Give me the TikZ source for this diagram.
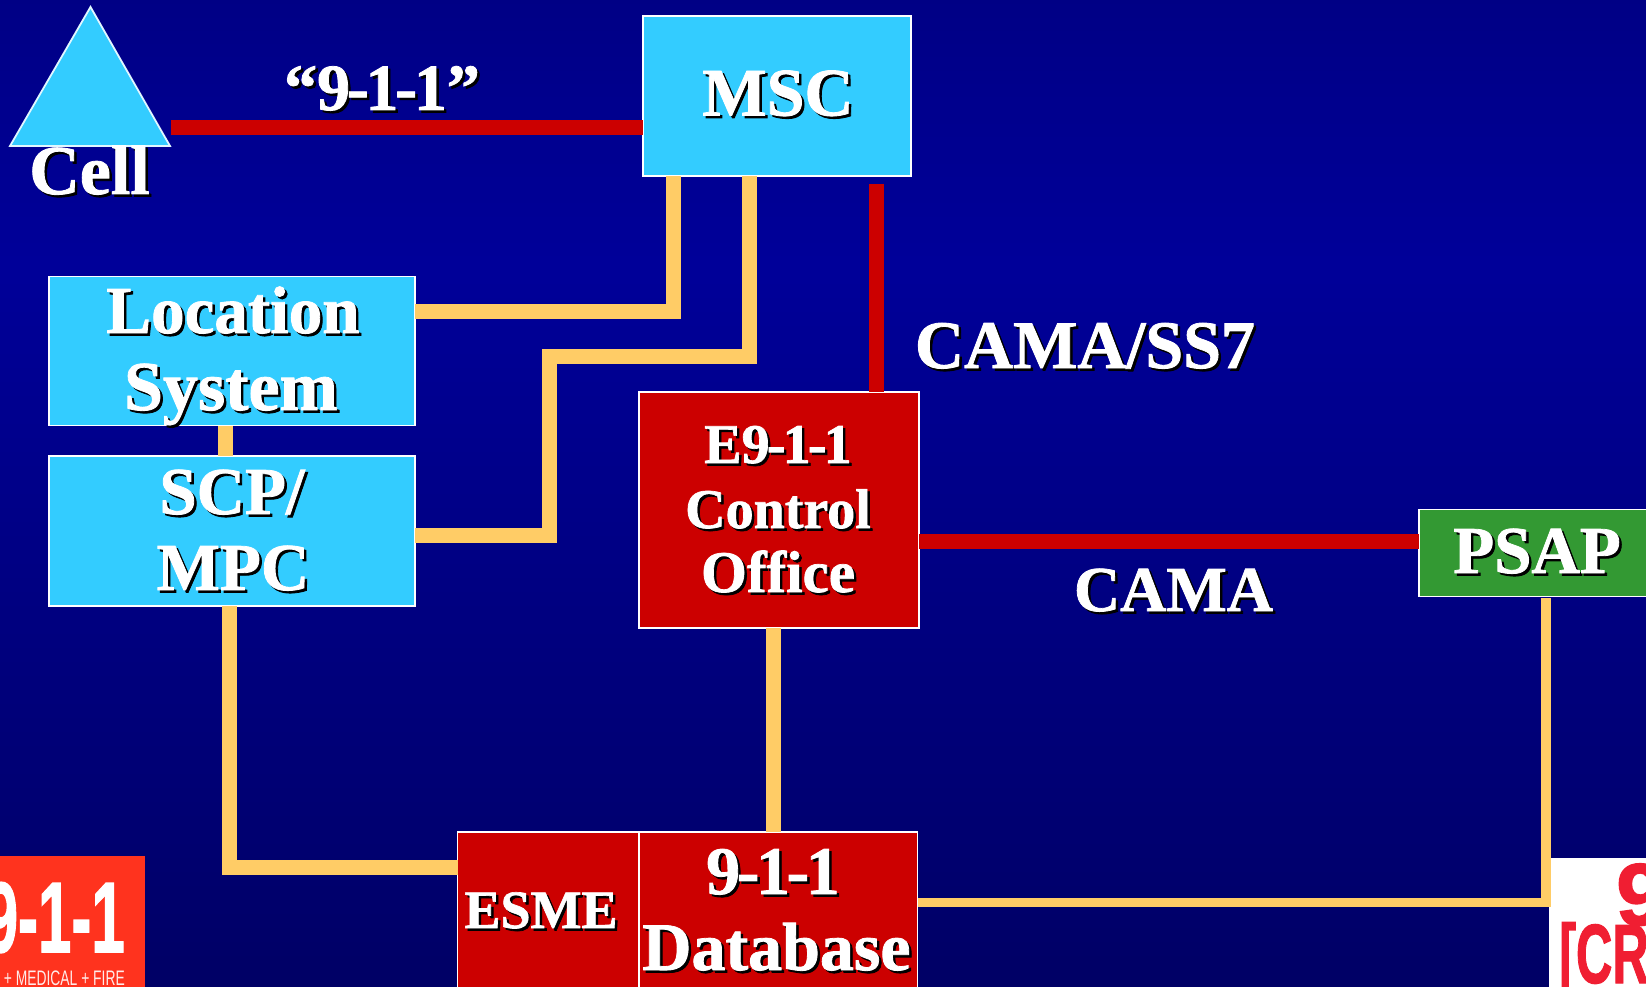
\documentclass[tikz,border=0pt]{standalone}
\usepackage{fontspec}
\usepackage{graphicx}
\setmainfont{Liberation Serif}[BoldFeatures={FakeBold=1.2}]
\newfontfamily\logofont{Liberation Sans}[BoldFeatures={FakeBold=1.5}]
\definecolor{bgA}{RGB}{0,0,96}
\definecolor{bgB}{RGB}{0,0,153}
\definecolor{bgD}{RGB}{0,0,66}
\definecolor{cyanbox}{RGB}{51,204,255}
\definecolor{redbox}{RGB}{204,0,0}
\definecolor{greenbox}{RGB}{51,153,51}
\definecolor{goldline}{RGB}{255,204,102}
\definecolor{logored}{RGB}{255,51,30}
\definecolor{logocrim}{RGB}{240,30,50}
\pgfdeclareverticalshading{slidebg}{100bp}{color(0bp)=(bgD);color(61.7bp)=(bgB);color(100bp)=(bgA)}
\newcommand{\shtxt}[1]{\leavevmode\rlap{\kern2.5pt\raisebox{-2.5pt}{\color{black}#1}}#1}
\newcommand{\hyp}{\kern-.05em-\kern-.05em}
\tikzset{
  x=1pt,y=-1pt,
  box/.style={rectangle,draw=white,line width=1.8pt,inner sep=0pt,outer sep=0pt,anchor=north west},
  cyanb/.style={box,fill=cyanbox},
  redb/.style={box,fill=redbox},
  greenb/.style={box,fill=greenbox},
  lab/.style={text=white,inner sep=0pt,outer sep=0pt,anchor=base,align=center,font=\bfseries\fontsize{#1}{#1}\selectfont},
  redline/.style={draw=redbox,line width=15pt},
  goldthick/.style={draw=goldline,line width=15pt},
  goldthin/.style={draw=goldline,line width=9.5pt},
}
\begin{document}
\begin{tikzpicture}
\path[use as bounding box] (0,0) rectangle (1646,987);
\shade[shading=slidebg] (0,0) rectangle (1646,987);

% logos
\begin{scope}
\clip (0,856) rectangle (145,987);
\fill[logored] (0,856) rectangle (145,987);
\node[inner sep=0pt,anchor=base east,text=white,font=\logofont\bfseries\fontsize{100}{100}\selectfont] (logoa) at (125,952) {\scalebox{.6}[1]{9-1-1}};
\node[inner sep=0pt,anchor=base east,text=white!90!logored,font=\logofont\fontsize{21}{21}\selectfont] (logob) at (125,985) {\scalebox{.66}[1]{+ MEDICAL + FIRE}};
\end{scope}
\begin{scope}
\clip (1549,858) rectangle (1646,987);
\fill[white] (1549,858) rectangle (1646,987);
\node[inner sep=0pt,anchor=base west,text=logocrim,font=\logofont\bfseries\fontsize{88}{88}\selectfont] (logoc) at (1616,925) {9};
\node[inner sep=0pt,anchor=base west,text=logocrim,font=\logofont\bfseries\fontsize{84}{84}\selectfont] (logod) at (1559,983) {\scalebox{.6}[1]{[CR}};
\end{scope}

% boxes
\node[cyanb,minimum width=268pt,minimum height=160pt] (msc) at (643,16) {};
\node[cyanb,minimum width=366pt,minimum height=149pt] (loc) at (49,276.5) {};
\node[cyanb,minimum width=366pt,minimum height=150pt] (scp) at (49,456) {};
\node[redb,minimum width=280pt,minimum height=236pt] (e911) at (639,392) {};
\node[greenb,minimum width=239pt,minimum height=87pt] (psap) at (1419,509.5) {};
\node[redb,minimum width=181pt,minimum height=170pt] (esme) at (457.5,832) {};
\node[redb,minimum width=278.5pt,minimum height=170pt] (db) at (639,832) {};

% triangle
\draw[draw=white!85!cyanbox,line width=1.8pt,fill=cyanbox] (90.5,7) -- (170,146) -- (10,146) -- cycle;
\coordinate (cellr) at (171,128);
\coordinate (mscred) at (876.5,184);
\coordinate (psapgold) at (1546,598);

% connectors
\draw[redline] (cellr) -- (cellr -| msc.west);
\draw[redline] (mscred) -- (mscred |- e911.north);
\draw[redline] ([yshift=-31.6pt]e911.east) -- ([yshift=-31.6pt]e911.east -| psap.west);
\draw[goldthick] (673,176) coordinate (a1) -- (a1 |- 0,311.5) -- (loc.east |- 0,311.5);
\draw[goldthick] (749,176) coordinate (a2) -- (a2 |- 0,356) -- (549,356) -- (549,535.5) -- (scp.east |- 0,535.5);
\draw[goldthick] (225,426) coordinate (a3) -- (a3 |- scp.north);
\draw[goldthick] (229,606) coordinate (a4) -- (a4 |- 0,867) -- (esme.west |- 0,867);
\draw[goldthick] (773,628) coordinate (a5) -- (a5 |- db.north);
\draw[goldthin] (db.east |- 0,902.5) -- (1546,902.5) -- (psapgold);

% labels
\node[lab=70] (tcell) at (89.5,194) {\shtxt{Cell}};
\node[lab=66] (t911) at (382,110) {\shtxt{“9\hyp1\hyp1”}};
\node[lab=68] (tmsc) at (778,115.5) {\shtxt{MSC}};
\node[lab=67] (tloc) at (233,333) {\shtxt{Location}};
\node[lab=70] (tsys) at (231,410) {\shtxt{System}};
\node[lab=67] (tscp) at (232,514) {\shtxt{SCP/}};
\node[lab=67] (tmpc) at (233,590) {\shtxt{MPC}};
\node[lab=68] (tss7) at (1085,368) {\shtxt{CAMA/SS7}};
\node[lab=56] (te9) at (778,463) {\shtxt{E9\hyp1\hyp1}};
\node[lab=56] (tctl) at (778,528) {\shtxt{Control}};
\node[lab=59] (toff) at (778,592) {\shtxt{Office}};
\node[lab=64] (tcama) at (1173.5,611) {\shtxt{CAMA}};
\node[lab=67] (tpsap) at (1537,573) {\shtxt{PSAP}};
\node[lab=54] (tesme) at (541,928) {\shtxt{ESME}};
\node[lab=68] (tdb9) at (773,894) {\shtxt{9\hyp1\hyp1}};
\node[lab=68] (tdb) at (776.5,970) {\shtxt{Database}};
\end{tikzpicture}
\end{document}
